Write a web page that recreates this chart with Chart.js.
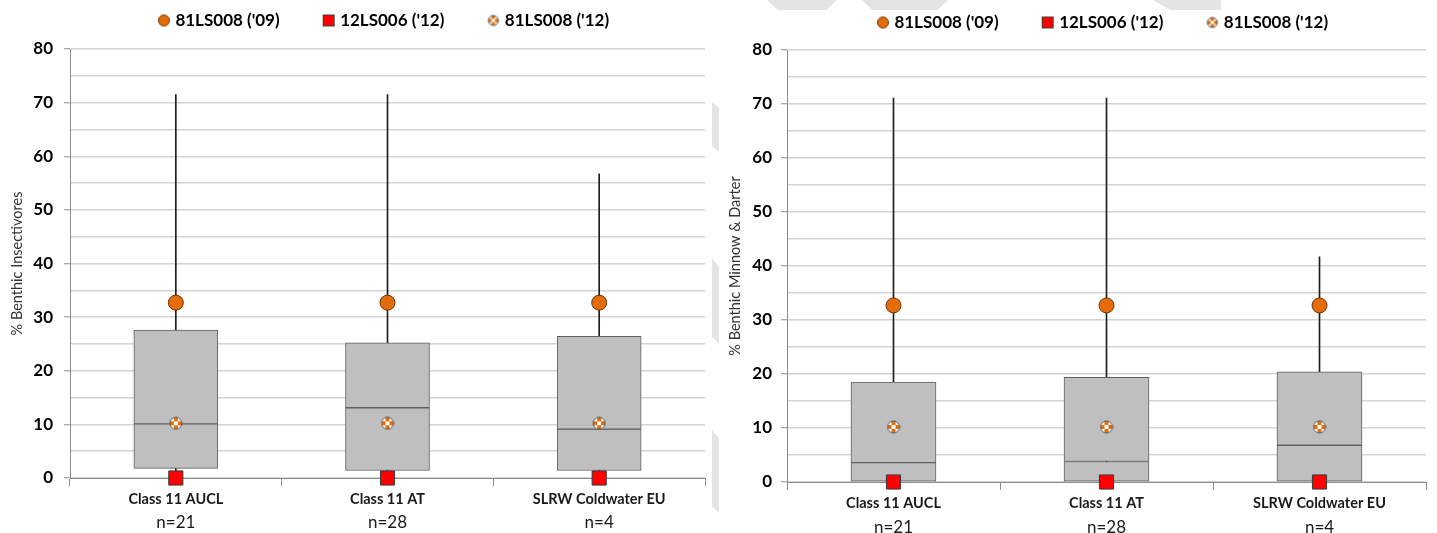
<!DOCTYPE html>
<html>
<head>
<meta charset="UTF-8">
<title>Benthic Insectivores / Benthic Minnow &amp; Darter</title>
<script src="https://cdn.jsdelivr.net/npm/chart.js@4.4.0/dist/chart.umd.min.js"></script>
<style>
  body { margin: 0; background: #fff; width: 1437px; height: 533px; overflow: hidden; position: relative; }
  .panel { position: absolute; top: 0; height: 533px; }
  #leftPanel { left: 0; width: 716px; }
  #rightPanel { left: 716px; width: 721px; }
  .mark { position: absolute; background: #e4e4e4; }
</style>
</head>
<body>
  <!-- faint grey chevrons from the page behind the charts -->
  <div class="mark" style="left:767px;top:0;width:70px;height:10px;clip-path:polygon(0 0,100% 0,85% 100%,15% 100%)"></div>
  <div class="mark" style="left:862px;top:0;width:86px;height:10px;clip-path:polygon(0 0,100% 0,88% 100%,12% 100%)"></div>
  <div class="mark" style="left:1153px;top:0;width:68px;height:10px;clip-path:polygon(0 0,100% 0,100% 100%,25% 100%)"></div>
  <div class="mark" style="left:712px;top:102px;width:7px;height:50px;clip-path:polygon(0 0,100% 12%,100% 100%,0 88%)"></div>
  <div class="mark" style="left:712px;top:258px;width:7px;height:86px;clip-path:polygon(0 0,100% 10%,100% 100%,0 92%)"></div>
  <div class="mark" style="left:712px;top:430px;width:7px;height:83px;clip-path:polygon(0 0,100% 10%,100% 100%,0 92%)"></div>

  <div class="panel" id="leftPanel"><canvas id="leftChart"></canvas></div>
  <div class="panel" id="rightPanel"><canvas id="rightChart"></canvas></div>

<script>
var categories = ['Class 11 AUCL', 'Class 11 AT', 'SLRW Coldwater EU'];
var sampleSizes = ['n=21', 'n=28', 'n=4'];
var yMax = 80;

// % Benthic Insectivores (box: min, q1, median, q3, max)
var insectMin = [0, 0, 0];
var insectQ1 = [1.8, 1.4, 1.4];
var insectMedian = [10.1, 13.1, 9.1];
var insectQ3 = [27.6, 25.2, 26.4];
var insectMax = [71.5, 71.5, 56.7];

// % Benthic Minnow & Darter
var minnowMin = [0, 0, 0];
var minnowQ1 = [0, 0, 0];
var minnowMedian = [3.6, 3.8, 6.8];
var minnowQ3 = [18.5, 19.4, 20.4];
var minnowMax = [71.1, 71.1, 41.7];

// sites plotted on top of the boxes
var siteNames = ["81LS008 ('09)", "12LS006 ('12)", "81LS008 ('12)"];
var site81LS008_09 = [32.7, 32.7, 32.7];
var site12LS006_12 = [0, 0, 0];
var site81LS008_12 = [10.2, 10.2, 10.2];

var FONT = 'Lato';
var ORANGE = '#e46c0a';
var RED = '#ff0000';

function pairs(a, b) {
  return a.map(function (v, i) { return [v, b[i]]; });
}

// white circle with an orange checker pattern
function drawChecker(ctx, cx, cy, r) {
  ctx.save();
  ctx.beginPath();
  ctx.arc(cx, cy, r, 0, Math.PI * 2);
  ctx.fillStyle = '#fff';
  ctx.fill();
  ctx.clip();
  ctx.fillStyle = ORANGE;
  var cell = r * 2 / 3;
  for (var i = -2; i <= 2; i++) {
    for (var j = -2; j <= 2; j++) {
      if (Math.abs(i + j) % 2 === 1) ctx.fillRect(cx + (i - 0.5) * cell, cy + (j - 0.5) * cell, cell, cell);
    }
  }
  ctx.restore();
  ctx.beginPath();
  ctx.arc(cx, cy, r, 0, Math.PI * 2);
  ctx.lineWidth = 1;
  ctx.strokeStyle = '#555';
  ctx.stroke();
}

function checkerPoint(size) {
  var c = document.createElement('canvas');
  c.width = size; c.height = size;
  drawChecker(c.getContext('2d'), size / 2, size / 2, size / 2 - 1);
  return c;
}

// legend icon: marker sits at the right end of a wide blank strip
function legendIcon(kind, w) {
  var h = 14;
  var c = document.createElement('canvas');
  c.width = w; c.height = h;
  var ctx = c.getContext('2d');
  var cx = w - 7, cy = h / 2;
  if (kind === 'circle') {
    ctx.beginPath();
    ctx.arc(cx, cy, 5.5, 0, Math.PI * 2);
    ctx.fillStyle = ORANGE; ctx.fill();
    ctx.strokeStyle = '#7a3a00'; ctx.lineWidth = 1; ctx.stroke();
  } else if (kind === 'rect') {
    ctx.fillStyle = RED;
    ctx.fillRect(cx - 6, cy - 6, 12, 12);
    ctx.strokeStyle = '#404040'; ctx.lineWidth = 1;
    ctx.strokeRect(cx - 5.5, cy - 5.5, 11, 11);
  } else {
    drawChecker(ctx, cx, cy, 5);
  }
  return c;
}

var LEGEND_W = 40;
var legendIcons = [
  legendIcon('circle', LEGEND_W + 8),
  legendIcon('rect', LEGEND_W + 8),
  legendIcon('check', LEGEND_W + 8)
];

var legendGap = {
  id: 'legendGap',
  beforeLayout: function (chart, args, opts) {
    if (!chart.legend || chart.legend._gapPatched) return;
    var fit = chart.legend.fit;
    chart.legend.fit = function () {
      fit.call(this);
      this.height += opts.extra;
    };
    chart.legend._gapPatched = true;
  },
  afterLayout: function (chart, args, opts) {
    if (!chart.legend) return;
    chart.legend.left = chart.chartArea.left + opts.shift;
    chart.legend.right = chart.chartArea.right + opts.shift;
  }
};

function makeChart(id, yTitle, mins, q1, med, q3, maxs, cfg) {
  var ctx = document.getElementById(id).getContext('2d');
  return new Chart(ctx, {
    type: 'bar',
    data: {
      labels: categories,
      datasets: [
        {
          type: 'line', label: siteNames[0], data: site81LS008_09,
          showLine: false, pointStyle: 'circle', pointRadius: 7.5,
          pointBackgroundColor: ORANGE, pointBorderColor: '#6b3300', pointBorderWidth: 1,
          order: 0, clip: false
        },
        {
          type: 'line', label: siteNames[1], data: site12LS006_12,
          showLine: false, pointStyle: 'rect', pointRadius: 10,
          pointBackgroundColor: RED, pointBorderColor: '#3a3a3a', pointBorderWidth: 1,
          order: 0, clip: false
        },
        {
          type: 'line', label: siteNames[2], data: site81LS008_12,
          showLine: false, pointStyle: checkerPoint(14), pointRadius: 7,
          order: 0, clip: false
        },
        {
          label: 'q3', data: pairs(med, q3), grouped: false, barThickness: cfg.boxW,
          backgroundColor: '#bfbfbf', borderColor: '#5f5f5f', borderWidth: 1, borderSkipped: false,
          order: 2
        },
        {
          label: 'q1', data: pairs(q1, med), grouped: false, barThickness: cfg.boxW,
          backgroundColor: '#bfbfbf', borderColor: '#5f5f5f', borderWidth: 1, borderSkipped: false,
          order: 2
        },
        {
          label: 'whisker', data: pairs(mins, maxs), grouped: false, barThickness: 1,
          backgroundColor: '#1e1e1e', borderWidth: 0,
          order: 3
        }
      ]
    },
    options: {
      responsive: true,
      maintainAspectRatio: false,
      animation: false,
      layout: { padding: { top: cfg.top, left: 0, right: cfg.right, bottom: 0 } },
      plugins: {
        tooltip: { enabled: false },
        legendGap: { extra: cfg.legendExtra, shift: cfg.legendShift },
        legend: {
          position: 'top',
          fullSize: false,
          labels: {
            usePointStyle: true,
            pointStyleWidth: LEGEND_W,
            padding: 12,
            color: '#1a1a1a',
            font: { family: FONT, size: 17, weight: 'bold' },
            generateLabels: function (chart) {
              return [0, 1, 2].map(function (i) {
                return {
                  text: chart.data.datasets[i].label,
                  pointStyle: legendIcons[i],
                  fillStyle: 'transparent', strokeStyle: 'transparent', lineWidth: 0,
                  hidden: false, datasetIndex: i
                };
              });
            }
          }
        }
      },
      scales: {
        x: {
          type: 'category',
          position: 'bottom',
          offset: true,
          grid: { offset: true, drawOnChartArea: false, drawTicks: true, tickLength: 8, color: '#8c8c8c' },
          border: { color: '#8c8c8c' },
          ticks: { color: '#1a1a1a', padding: cfg.xPad, maxRotation: 0, font: { family: FONT, size: 14.5, weight: 'bold' } },
          afterFit: function (s) { s.height = cfg.xH; }
        },
        x2: {
          type: 'category',
          labels: sampleSizes,
          position: 'bottom',
          offset: true,
          grid: { display: false, drawTicks: false },
          border: { display: false },
          ticks: { color: '#1a1a1a', padding: cfg.x2Pad, maxRotation: 0, font: { family: FONT, size: 17 } },
          afterFit: function (s) { s.height = cfg.x2H; }
        },
        y: {
          min: 0,
          max: yMax,
          ticks: {
            stepSize: 5,
            padding: cfg.yPad,
            color: '#000',
            font: { family: FONT, size: 17, weight: 'bold' },
            callback: function (v) { return v % 10 === 0 ? v : ''; }
          },
          grid: {
            color: '#d4d4d4',
            lineWidth: 1.5,
            tickLength: 6,
            tickColor: function (c) { return c.tick && c.tick.value % 10 === 0 ? '#8c8c8c' : 'rgba(0,0,0,0)'; },
            tickWidth: 1
          },
          border: { color: '#8c8c8c' },
          title: {
            display: true,
            text: yTitle,
            color: '#333',
            padding: { top: cfg.titlePad, bottom: 0 },
            font: { family: FONT, size: 14.5 }
          },
          afterFit: function (s) { s.width = cfg.yW; }
        }
      }
    },
    plugins: [legendGap]
  });
}

makeChart('leftChart', '% Benthic Insectivores',
  insectMin, insectQ1, insectMedian, insectQ3, insectMax,
  { boxW: 84, top: 0, right: 6, legendExtra: 10, legendShift: -19.5, xH: 33, x2H: 22, xPad: 5, x2Pad: 1, yPad: 11, yW: 70, titlePad: 9 });

makeChart('rightChart', '% Benthic Minnow & Darter',
  minnowMin, minnowQ1, minnowMedian, minnowQ3, minnowMax,
  { boxW: 85, top: 2, right: 7, legendExtra: 9, legendShift: -19.5, xH: 31, x2H: 20, xPad: 5, x2Pad: 4, yPad: 9, yW: 71, titlePad: 11 });
</script>
</body>
</html>
